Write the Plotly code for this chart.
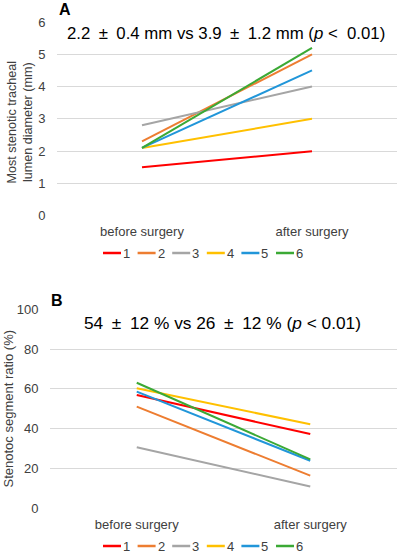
import plotly.graph_objects as go

W, H = 399, 553

categories = ["before surgery", "after surgery"]
patients = ["1", "2", "3", "4", "5", "6"]
colors = ["#FF0000", "#ED7D31", "#A5A5A5", "#FFC000", "#2196D9", "#3BA935"]

diameter_before = [1.5, 2.3, 2.8, 2.1, 2.1, 2.1]
diameter_after = [2.0, 5.0, 4.0, 3.0, 4.5, 5.2]

ratio_before = [56.9, 51.1, 30.7, 60.3, 58.6, 63.1]
ratio_after = [37.3, 16.4, 11.0, 42.2, 23.9, 24.6]

yticksA = [0, 1, 2, 3, 4, 5, 6]
yticksB = [0, 20, 40, 60, 80, 100]

FONT = "Liberation Sans, Arial, sans-serif"
PM = "\u2002\u00b1\u2002"


def px_x(p):
    return p / W


def px_y(p):
    return 1 - p / H


fig = go.Figure()
for i, name in enumerate(patients):
    fig.add_trace(go.Scatter(x=categories, y=[diameter_before[i], diameter_after[i]],
                             mode="lines", name=name, line=dict(color=colors[i], width=2),
                             xaxis="x", yaxis="y", showlegend=False))
    fig.add_trace(go.Scatter(x=categories, y=[ratio_before[i], ratio_after[i]],
                             mode="lines", name=name, line=dict(color=colors[i], width=2),
                             xaxis="x2", yaxis="y2", showlegend=False))

tickfont = dict(family=FONT, size=13, color="#404040")
yax_common = dict(showline=False, zeroline=False, gridcolor="#D9D9D9", gridwidth=1,
                  tickfont=tickfont, automargin=False, ticks="outside", ticklen=8,
                  tickcolor="rgba(0,0,0,0)")
xax_common = dict(showgrid=False, showline=False, zeroline=False, automargin=False,
                  ticks="outside", ticklen=4, tickcolor="rgba(0,0,0,0)", tickfont=tickfont,
                  type="category", range=[-0.5, 1.5])

fig.update_layout(
    template="none",
    width=W, height=H,
    margin=dict(l=0, r=0, t=0, b=0, pad=0),
    plot_bgcolor="white", paper_bgcolor="white",
    xaxis=dict(domain=[px_x(57), px_x(397)], anchor="y", **xax_common),
    yaxis=dict(domain=[px_y(215.7), px_y(22)], anchor="x", range=[0, 6],
               tickvals=yticksA, **yax_common),
    xaxis2=dict(domain=[px_x(50), px_x(397)], anchor="y2", **xax_common),
    yaxis2=dict(domain=[px_y(508.3), px_y(309.3)], anchor="x2", range=[0, 100],
                tickvals=yticksB, **yax_common),
    font=dict(family=FONT),
    showlegend=False,
)


def note(text, x, y, size, color="black", angle=0, xanchor="center"):
    return dict(text=text, x=px_x(x), y=px_y(y), xref="paper", yref="paper",
                showarrow=False, xanchor=xanchor, yanchor="middle", textangle=angle,
                font=dict(size=size, color=color, family=FONT))


ann = [
    note("<b>A</b>", 65, 9.5, 16),
    note("<b>B</b>", 57, 300, 16),
    note("2.2" + PM + "0.4 mm vs 3.9" + PM + "1.2 mm (<i>p</i> <  0.01)", 226, 33, 16.8),
    note("54" + PM + "12 % vs 26" + PM + "12 % (<i>p</i> < 0.01)", 222.5, 323, 17.3),
    note("Most stenotic tracheal<br>lumen diameter (mm)", 19.5, 122, 12.6, "#404040", -90),
    note("Stenotoc segment ratio (%)", 7.5, 409, 13, "#404040", -90),
]

shapes = []
# manual legends (swatch + label), one row under each chart
for ly in (253, 546):
    x0 = 103
    for i, name in enumerate(patients):
        shapes.append(dict(type="line", xref="paper", yref="paper",
                           x0=px_x(x0), x1=px_x(x0 + 18), y0=px_y(ly), y1=px_y(ly),
                           line=dict(color=colors[i], width=2.5)))
        ann.append(note(name, x0 + 18, ly, 13, "#404040", xanchor="left"))
        x0 += 34.6

fig.update_layout(annotations=ann, shapes=shapes)
fig.write_html("out.html", config={"displayModeBar": False},
               post_script="document.body.style.margin='0';")
